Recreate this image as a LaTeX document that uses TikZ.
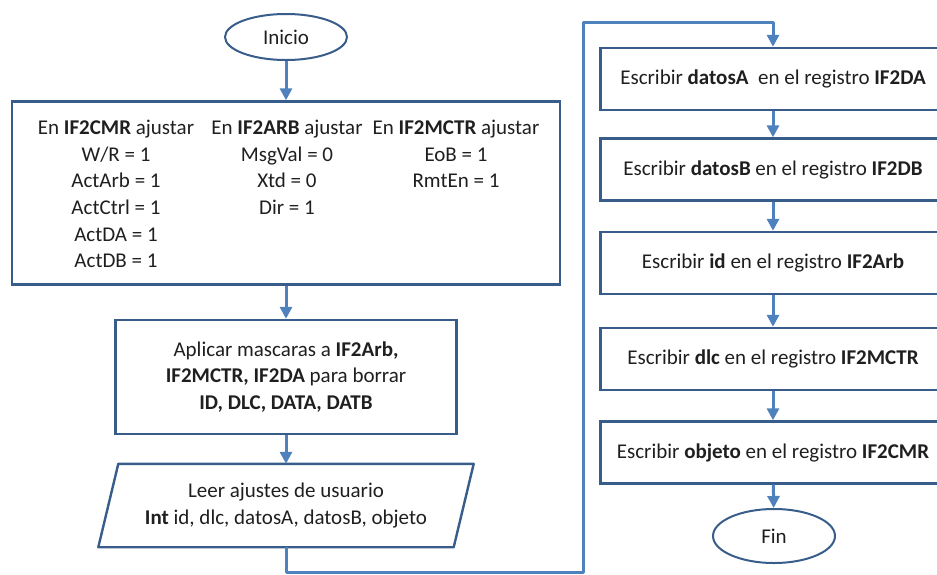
\documentclass[tikz,border=0pt]{standalone}
\usepackage{fontspec}
\setmainfont{Carlito}
\usetikzlibrary{shapes.geometric,arrows.meta}
\definecolor{borde}{RGB}{56,93,138}
\definecolor{flecha}{RGB}{79,129,189}
\begin{document}
\begin{tikzpicture}[x=1pt,y=-1pt,
	every node/.style={font=\fontsize{21}{26.6}\selectfont,text=black!88,inner sep=0pt},
	caja/.style={draw=borde,line width=2.4pt,rectangle,align=center},
	escribe/.style={caja,minimum width=345,minimum height=62},
	terminal/.style={draw=borde,line width=2pt,ellipse,minimum width=122},
	flujo/.style={draw=flecha,line width=3pt,-{Triangle[width=12pt,length=12pt]}}]
	\clip (0,0) rectangle (937,574);
	% columna izquierda
	\node[terminal,minimum height=46] (inicio) at (286,37) {Inicio};
	\node[caja,minimum width=548,minimum height=183] (ajustes) at (286,193) {};
	\node[align=center,anchor=north] (colcmr) at (116,120) {En \textbf{IF2CMR} ajustar\\W/R = 1\\ActArb = 1\\ActCtrl = 1\\ActDA = 1\\ActDB = 1};
	\node[align=center,anchor=north] (colarb) at (287,120) {En \textbf{IF2ARB} ajustar\\MsgVal = 0\\Xtd = 0\\Dir = 1};
	\node[align=center,anchor=north] (colmctr) at (456,120) {En \textbf{IF2MCTR} ajustar\\EoB = 1\\RmtEn = 1};
	\node[caja,minimum width=341,minimum height=114] (mascaras) at (286,377) {Aplicar mascaras a \textbf{IF2Arb,}\\\textbf{IF2MCTR, IF2DA} para borrar\\\textbf{ID, DLC, DATA, DATB}};
	\node[align=center,minimum width=355,minimum height=83] (leer) at (286,505.5) {Leer ajustes de usuario\\\textbf{Int} id, dlc, datosA, datosB, objeto};
	\draw[borde,line width=2.4pt,line join=round] ([xshift=10pt]leer.north west) -- ([xshift=10pt]leer.north east) -- ([xshift=-10pt]leer.south east) -- ([xshift=-10pt]leer.south west) -- cycle;
	% columna derecha
	\node[escribe] (escA) at (773,79) {Escribir \textbf{datosA}\ \ en el registro \textbf{IF2DA}};
	\node[escribe] (escB) at (773,169.5) {Escribir \textbf{datosB} en el registro \textbf{IF2DB}};
	\node[escribe] (escC) at (773,263) {Escribir \textbf{id} en el registro \textbf{IF2Arb}};
	\node[escribe] (escD) at (773,359) {Escribir \textbf{dlc} en el registro \textbf{IF2MCTR}};
	\node[escribe] (escE) at (773,452.5) {Escribir \textbf{objeto} en el registro \textbf{IF2CMR}};
	\node[terminal,minimum height=54] (fin) at (774,536) {Fin};
	% conectores
	\coordinate (bajo) at (583,572);
	\coordinate (alto) at (583,22);
	\draw[flujo] (inicio) -- (ajustes);
	\draw[flujo] (ajustes) -- (mascaras);
	\draw[flujo] (mascaras) -- (leer);
	\draw[flujo,line join=round] (leer.south) |- (bajo) -- (alto) -| (escA.north);
	\draw[flujo] (escA) -- (escB);
	\draw[flujo] (escB) -- (escC);
	\draw[flujo] (escC) -- (escD);
	\draw[flujo] (escD) -- (escE);
	\draw[flujo] (escE) -- (fin);
\end{tikzpicture}
\end{document}
